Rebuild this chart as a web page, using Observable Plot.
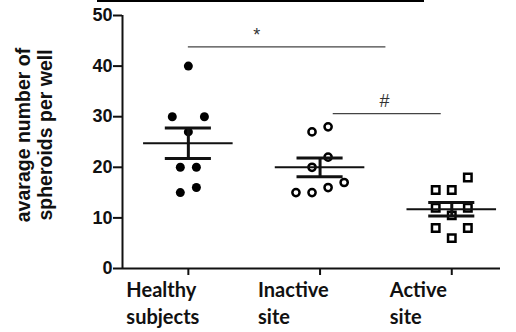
<!DOCTYPE html>
<html><head><meta charset="utf-8">
<script src="https://cdn.jsdelivr.net/npm/d3@7"></script>
<script src="https://cdn.jsdelivr.net/npm/@observablehq/plot@0.6"></script>
<style>
html,body{margin:0;padding:0;background:#fff;}
#wrap{position:relative;width:516px;height:332px;overflow:hidden;}
#topline{position:absolute;left:97px;top:0;width:327px;height:2px;background:#000;}
</style></head><body>
<div id="wrap"><div id="topline"></div><div id="chart"></div></div>
<script>
const groups = ["Healthy subjects", "Inactive site", "Active site"];
const xLabels = ["Healthy\nsubjects", "Inactive\nsite", "Active\nsite"];
const healthy = [40, 30, 30, 27, 20, 20, 16, 15];
const inactive = [28, 27, 22, 20, 17, 16, 15, 15];
const active = [18, 15.5, 15.5, 12, 12, 10.5, 8, 8, 6];
const yTicks = [0, 10, 20, 30, 40, 50];
const yLabel = "avarage number of\nspheroids per well";
const comparisons = [
  {from: 0, to: 1.5, y: 43.8, label: "*", labelX: 0.52},
  {from: 1.1, to: 1.92, y: 30.6, label: "#", labelX: 1.49}
];

const series = [healthy, inactive, active];
const step = 0.122;     // horizontal spacing of scattered points (x units)
const rowGap = 3.2;     // values closer than this share a row

// simple scatter layout: points with similar values are spread side by side
const points = [];
series.forEach((vals, g) => {
  const sorted = vals.slice().sort((a, b) => a - b);
  const rows = [];
  for (const v of sorted) {
    const last = rows[rows.length - 1];
    if (last && v - last[0] < rowGap) last.push(v); else rows.push([v]);
  }
  for (const row of rows) {
    const n = row.length;
    let offs;
    if (n % 2 === 1) {
      offs = [0];
      for (let k = 1; offs.length < n; k++) { offs.push(-k); if (offs.length < n) offs.push(k); }
    } else {
      offs = row.map((_, i) => i - (n - 1) / 2);
    }
    row.forEach((v, i) => points.push({g, value: v, x: g + offs[i] * step}));
  }
});

const stats = series.map((v, g) => {
  const m = d3.mean(v);
  const se = d3.deviation(v) / Math.sqrt(v.length);
  return {g, mean: m, lo: m - se, hi: m + se};
});

const xDomain = [-0.5, 2.37];
const arial = "'Liberation Sans', Arial, sans-serif";
const calibri = "Lato, 'Open Sans', sans-serif";

const chart = Plot.plot({
  width: 516, height: 332,
  marginTop: 15, marginBottom: 64, marginLeft: 122, marginRight: 16,
  style: {background: "white", color: "#111", fontFamily: arial},
  x: {domain: xDomain, label: null},
  y: {domain: [0, 50], label: null},
  marks: [
    Plot.axisY(yTicks, {tickSize: 9, tickPadding: 1, fontSize: 18, fontWeight: "bold", strokeWidth: 2, label: null}),
    Plot.axisX([0, 1, 2], {tickSize: 7, tickFormat: () => "", strokeWidth: 2, label: null}),
    Plot.ruleY([0], {strokeWidth: 2}),
    Plot.ruleX([xDomain[0]], {strokeWidth: 2}),
    Plot.text([0, 1, 2], {x: d => d, frameAnchor: "bottom", text: i => xLabels[i], textAnchor: "start", lineAnchor: "top",
      dx: -62, dy: 9, fontSize: 20, fontFamily: calibri, fontWeight: "bold", lineHeight: 1.35, fill: "#111"}),
    Plot.text([yLabel], {frameAnchor: "left", text: d => d, rotate: -90, textAnchor: "middle", lineAnchor: "middle",
      dx: -89, dy: -7, fontSize: 19.5, fontWeight: "bold", lineHeight: 1.13, fill: "#111"}),
    Plot.ruleY(comparisons, {y: "y", x1: "from", x2: "to", stroke: "#444", strokeWidth: 1.4}),
    Plot.text(comparisons, {x: "labelX", y: "y", text: "label", dy: -12, fontSize: 18, fill: "#333"}),
    Plot.dot(points.filter(d => d.g === 0), {x: "x", y: "value", r: 4.5, fill: "black"}),
    Plot.dot(points.filter(d => d.g === 1), {x: "x", y: "value", r: 3.6, fill: "white", stroke: "black", strokeWidth: 2.5}),
    Plot.dot(points.filter(d => d.g === 2), {x: "x", y: "value", symbol: "square", r: 4.2, fill: "white", stroke: "black", strokeWidth: 2.5}),
    Plot.ruleY(stats, {y: "mean", x1: d => d.g - 0.34, x2: d => d.g + 0.34, strokeWidth: 2}),
    Plot.ruleY(stats, {y: "hi", x1: d => d.g - 0.175, x2: d => d.g + 0.175, strokeWidth: 3}),
    Plot.ruleY(stats, {y: "lo", x1: d => d.g - 0.175, x2: d => d.g + 0.175, strokeWidth: 3}),
    Plot.ruleX(stats, {x: "g", y1: "lo", y2: "hi", strokeWidth: 3})
  ]
});
document.getElementById("chart").appendChild(chart);
</script>
</body></html>
